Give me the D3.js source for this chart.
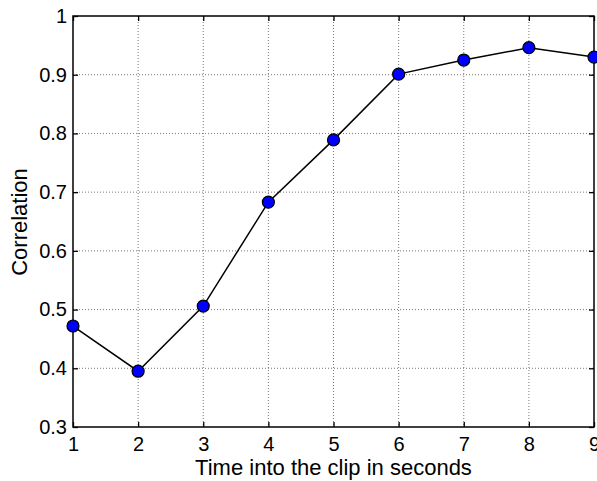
<!DOCTYPE html>
<html><head><meta charset="utf-8">
<script src="https://cdn.jsdelivr.net/npm/d3@7"></script>
<style>body{margin:0;background:#fff}svg{display:block}text{font-family:Arial,"Liberation Sans",sans-serif;fill:#000}</style>
</head><body><svg id="c" width="597" height="481"></svg>
<script>
const xValues = [1,2,3,4,5,6,7,8,9];
const correlation = [0.472,0.395,0.506,0.683,0.789,0.901,0.925,0.946,0.930];
const xTicks = [1,2,3,4,5,6,7,8,9];
const yTicks = [0.3,0.4,0.5,0.6,0.7,0.8,0.9,1];

const L=73,R=594,T=16,B=427;
const svg=d3.select("#c");
const x=d3.scaleLinear().domain([1,9]).range([L,R]);
const y=d3.scaleLinear().domain([0.3,1]).range([B,T]);

// grid
const g=svg.append("g");
g.selectAll(".gx").data(xTicks.slice(1,-1)).join("line")
 .attr("x1",d=>x(d)).attr("x2",d=>x(d)).attr("y1",T).attr("y2",B)
 .attr("stroke","#555").attr("stroke-width",0.8).attr("stroke-dasharray","1,2");
g.selectAll(".gy").data(yTicks.slice(1,-1)).join("line")
 .attr("y1",d=>y(d)).attr("y2",d=>y(d)).attr("x1",L).attr("x2",R)
 .attr("stroke","#555").attr("stroke-width",0.8).attr("stroke-dasharray","1,2");

// axes with inward ticks
const fmt=d=>d===1?"1":d3.format(".1f")(d);
const ax=svg.append("g").attr("transform",`translate(0,${B})`).call(d3.axisBottom(x).tickValues(xTicks).tickSize(-5).tickPadding(10).tickFormat(d3.format("d")));
const axT=svg.append("g").attr("transform",`translate(0,${T})`).call(d3.axisTop(x).tickValues(xTicks).tickSize(-5).tickFormat(""));
const ay=svg.append("g").attr("transform",`translate(${L},0)`).call(d3.axisLeft(y).tickValues(yTicks).tickSize(-5).tickPadding(6).tickFormat(fmt));
const ayR=svg.append("g").attr("transform",`translate(${R},0)`).call(d3.axisRight(y).tickValues(yTicks).tickSize(-5).tickFormat(""));
[ax,axT,ay,ayR].forEach(a=>{a.attr("font-size",20).attr("font-family","Arial, 'Liberation Sans', sans-serif");a.select(".domain").remove();a.selectAll("line").attr("stroke","#000").attr("stroke-width",1.3);a.selectAll("text").attr("font-size",20);});
svg.append("rect").attr("x",L).attr("y",T).attr("width",R-L).attr("height",B-T).attr("fill","none").attr("stroke","#000").attr("stroke-width",1.5);

// line + markers
svg.append("path").datum(xValues.map((v,i)=>[v,correlation[i]]))
 .attr("d",d3.line().x(d=>x(d[0])).y(d=>y(d[1]))).attr("fill","none").attr("stroke","#000").attr("stroke-width",1.5);
svg.selectAll(".pt").data(xValues.map((v,i)=>[v,correlation[i]])).join("circle")
 .attr("cx",d=>x(d[0])).attr("cy",d=>y(d[1])).attr("r",6).attr("fill","#0000ff").attr("stroke","#000").attr("stroke-width",1.2);

svg.append("text").attr("x",(L+R)/2).attr("y",475).attr("text-anchor","middle").attr("font-size",22).text("Time into the clip in seconds");
svg.append("text").attr("transform",`translate(27,222) rotate(-90)`).attr("text-anchor","middle").attr("font-size",22).text("Correlation");
</script></body></html>
